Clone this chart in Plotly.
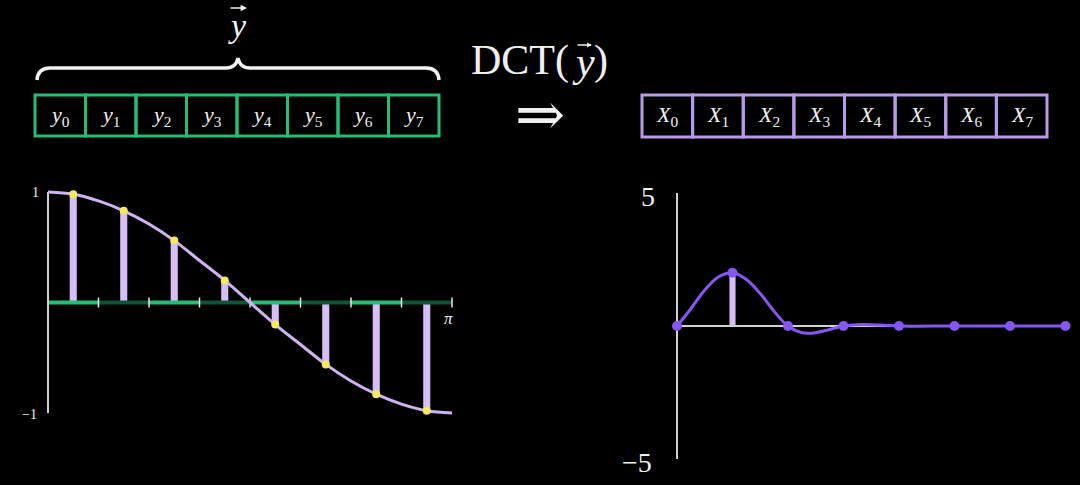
import math
import plotly.graph_objects as go

# ---------------- data ----------------
in_labels = ["<i>y</i><sub>0</sub>", "<i>y</i><sub>1</sub>", "<i>y</i><sub>2</sub>", "<i>y</i><sub>3</sub>",
             "<i>y</i><sub>4</sub>", "<i>y</i><sub>5</sub>", "<i>y</i><sub>6</sub>", "<i>y</i><sub>7</sub>"]
out_labels = ["<i>X</i><sub>0</sub>", "<i>X</i><sub>1</sub>", "<i>X</i><sub>2</sub>", "<i>X</i><sub>3</sub>",
              "<i>X</i><sub>4</sub>", "<i>X</i><sub>5</sub>", "<i>X</i><sub>6</sub>", "<i>X</i><sub>7</sub>"]

# left: continuous curve (x in units of pi) and sampled values
curve_x_pi = [0, 0.0625, 0.125, 0.1875, 0.25, 0.3125, 0.375, 0.4375, 0.5,
              0.5625, 0.625, 0.6875, 0.75, 0.8125, 0.875, 0.9375, 1.0]
curve_y = [1.00, 0.98, 0.92, 0.83, 0.71, 0.56, 0.38, 0.20, 0.00,
           -0.20, -0.38, -0.56, -0.71, -0.83, -0.92, -0.98, -1.00]
sample_x_pi = [0.0625, 0.1875, 0.3125, 0.4375, 0.5625, 0.6875, 0.8125, 0.9375]
sample_y = [0.98, 0.83, 0.56, 0.20, -0.20, -0.56, -0.83, -0.98]
tick_x_pi = [0.125, 0.25, 0.375, 0.5, 0.625, 0.75, 0.875, 1.0]

# right: DCT coefficients and the smooth interpolating curve
coef_idx = [0, 1, 2, 3, 4, 5, 6, 7]
coef_val = [0.0, 2.0, 0.0, 0.0, 0.0, 0.0, 0.0, 0.0]
interp_x = [0, 0.25, 0.5, 0.75, 1.0, 1.25, 1.5, 1.75, 2.0, 2.25, 2.5, 2.75, 3.0,
            3.25, 3.5, 3.75, 4.0, 5.0, 6.0, 7.0]
interp_y = [0.0, 0.65, 1.35, 1.85, 2.0, 1.75, 1.22, 0.55, 0.0, -0.25, -0.25, -0.13, 0.0,
            0.05, 0.05, 0.03, 0.0, 0.0, 0.0, 0.0]

# ---------------- styling / layout helpers ----------------
W, H = 1080, 485
BG = "#000000"
CLEAR = "rgba(0,0,0,0)"
SERIF = "Liberation Serif, DejaVu Serif, serif"
LAV = "#d6bdf4"
PURPLE = "#8657f0"
YELLOW = "#f4ea5e"
GREEN = "#27bb74"
DKGREEN = "#0f5535"
AXIS = "#d2d2d2"
TXT = "#f0f0f0"

def xdom(p0, s, r0, r1):
    return [(p0 + r0 * s) / W, (p0 + r1 * s) / W]

def ydom(p0, s, r0, r1):
    return [1 - (p0 - r0 * s) / H, 1 - (p0 - r1 * s) / H]

PI = math.pi
Lx0, Lsx = 48, 404 / PI
Ly0, Lsy = 302.5, 110.5
Lxr, Lyr = [-0.25, PI + 0.25], [-1.2, 1.2]
Rx0, Rsx = 677, 55.5
Ry0, Rsy = 326, 26.6
Rxr, Ryr = [-0.6, 7.25], [-5.5, 5.5]

fig = go.Figure()

# ---- left plot ----
for k in range(8):
    x0 = (tick_x_pi[k] - 0.125) * PI
    x1 = tick_x_pi[k] * PI
    fig.add_trace(go.Scatter(x=[x0, x1], y=[0, 0], mode="lines",
                             line=dict(color=GREEN if k % 2 == 0 else DKGREEN, width=4),
                             xaxis="x", yaxis="y", hoverinfo="skip", showlegend=False))
tx, ty = [], []
for t in tick_x_pi:
    tx += [t * PI, t * PI, None]
    ty += [-0.045, 0.045, None]
fig.add_trace(go.Scatter(x=tx, y=ty, mode="lines", line=dict(color="#e8e8e8", width=1.5),
                         xaxis="x", yaxis="y", hoverinfo="skip", showlegend=False))
fig.add_trace(go.Scatter(x=[0, 0], y=[-1.0, 1.0], mode="lines", line=dict(color=AXIS, width=2),
                         xaxis="x", yaxis="y", hoverinfo="skip", showlegend=False))
fig.add_trace(go.Bar(x=[v * PI for v in sample_x_pi], y=sample_y, base=0, width=0.055,
                     marker=dict(color=LAV, line=dict(width=0)),
                     xaxis="x", yaxis="y", showlegend=False))
fig.add_trace(go.Scatter(x=[v * PI for v in curve_x_pi], y=curve_y, mode="lines",
                         line=dict(color="#cdb4f0", width=3, shape="spline"),
                         xaxis="x", yaxis="y", showlegend=False))
fig.add_trace(go.Scatter(x=[v * PI for v in sample_x_pi], y=sample_y, mode="markers",
                         marker=dict(color=YELLOW, size=8), cliponaxis=False,
                         xaxis="x", yaxis="y", showlegend=False))

# ---- right plot ----
fig.add_trace(go.Scatter(x=[0, 0], y=[-5, 5], mode="lines", line=dict(color=AXIS, width=2),
                         xaxis="x2", yaxis="y2", hoverinfo="skip", showlegend=False))
fig.add_trace(go.Scatter(x=[0, 7], y=[0, 0], mode="lines", line=dict(color=AXIS, width=2),
                         xaxis="x2", yaxis="y2", hoverinfo="skip", showlegend=False))
fig.add_trace(go.Bar(x=coef_idx, y=coef_val, base=0, width=0.11,
                     marker=dict(color=LAV, line=dict(width=0)),
                     xaxis="x2", yaxis="y2", showlegend=False))
fig.add_trace(go.Scatter(x=interp_x, y=interp_y, mode="lines",
                         line=dict(color=PURPLE, width=3, shape="spline", smoothing=1.0),
                         xaxis="x2", yaxis="y2", showlegend=False))
fig.add_trace(go.Scatter(x=coef_idx, y=coef_val, mode="markers",
                         marker=dict(color=PURPLE, size=10), cliponaxis=False,
                         xaxis="x2", yaxis="y2", showlegend=False))

# ---- decoration layer (pixel coordinates) ----
shapes = []
gx0, gx1, gy0, gy1 = 35, 439, 95, 136
cw = (gx1 - gx0) / 8
for i in range(8):
    shapes.append(dict(type="rect", xref="x3", yref="y3", x0=gx0 + i * cw, x1=gx0 + (i + 1) * cw,
                       y0=gy0, y1=gy1, line=dict(color=GREEN, width=3)))
px0, px1, py0, py1 = 642, 1047, 95, 137
pw = (px1 - px0) / 8
for i in range(8):
    shapes.append(dict(type="rect", xref="x3", yref="y3", x0=px0 + i * pw, x1=px0 + (i + 1) * pw,
                       y0=py0, y1=py1, line=dict(color="#b99ae8", width=3)))
brace = ("M 37 80 Q 38 68 50 68 L 226 68 Q 236 68 238 58 "
         "Q 240 68 250 68 L 426 68 Q 438 68 439 80")
shapes.append(dict(type="path", xref="x3", yref="y3", path=brace,
                   line=dict(color="#f2f2f2", width=3.5)))

def px_text(x, y, text, size, xanchor="center", family=SERIF, color=TXT):
    return dict(x=x, y=y, xref="x3", yref="y3", text=text, showarrow=False, xanchor=xanchor,
                font=dict(family=family, size=size, color=color))

def px_arrow(x0, x1, y, width=1.5, size=0.8):
    return dict(x=x1, y=y, ax=x0, ay=y, xref="x3", yref="y3", axref="x3", ayref="y3",
                text="", showarrow=True, arrowhead=2, arrowsize=size, arrowwidth=width,
                arrowcolor=TXT)

annotations = []
for i, lab in enumerate(in_labels):
    annotations.append(px_text(gx0 + (i + 0.5) * cw, (gy0 + gy1) / 2, lab, 22))
for i, lab in enumerate(out_labels):
    annotations.append(px_text(px0 + (i + 0.5) * pw, (py0 + py1) / 2, lab, 22))
# vector y above the brace
annotations.append(px_text(237, 25, "<i>y</i>", 34))
annotations.append(px_arrow(229, 247, 8, 1.6, 0.8))
# DCT(y)
annotations.append(px_text(469, 60, "DCT(", 42, xanchor="left"))
annotations.append(px_text(583, 62, "<i>y</i>", 42))
annotations.append(px_text(601, 60, ")", 42))
annotations.append(px_arrow(576, 592, 45, 1.4, 0.7))
# implies arrow
annotations.append(px_text(540, 114, "⇒", 60, family="DejaVu Serif, serif"))
# axis labels
annotations.append(px_text(35, 192, "1", 14))
annotations.append(px_text(29, 414, "−1", 14))
annotations.append(px_text(448, 318, "<i>π</i>", 17))
annotations.append(px_text(648, 196, "5", 28))
annotations.append(px_text(637, 462, "−5", 28))

fig.update_layout(
    width=W, height=H, margin=dict(l=0, r=0, t=0, b=0),
    paper_bgcolor=BG, plot_bgcolor=CLEAR, showlegend=False, barmode="overlay",
    xaxis=dict(domain=xdom(Lx0, Lsx, *Lxr), range=Lxr, visible=False, anchor="y"),
    yaxis=dict(domain=ydom(Ly0, Lsy, *Lyr), range=Lyr, visible=False, anchor="x"),
    xaxis2=dict(domain=xdom(Rx0, Rsx, *Rxr), range=Rxr, visible=False, anchor="y2"),
    yaxis2=dict(domain=ydom(Ry0, Rsy, *Ryr), range=Ryr, visible=False, anchor="x2"),
    xaxis3=dict(domain=[0, 1], range=[0, W], visible=False, anchor="y3"),
    yaxis3=dict(domain=[0, 1], range=[H, 0], visible=False, anchor="x3"),
    shapes=shapes, annotations=annotations,
)

fig.write_html("out.html", config={"displayModeBar": False},
               post_script="document.body.style.margin='0';document.body.style.background='#000';")
